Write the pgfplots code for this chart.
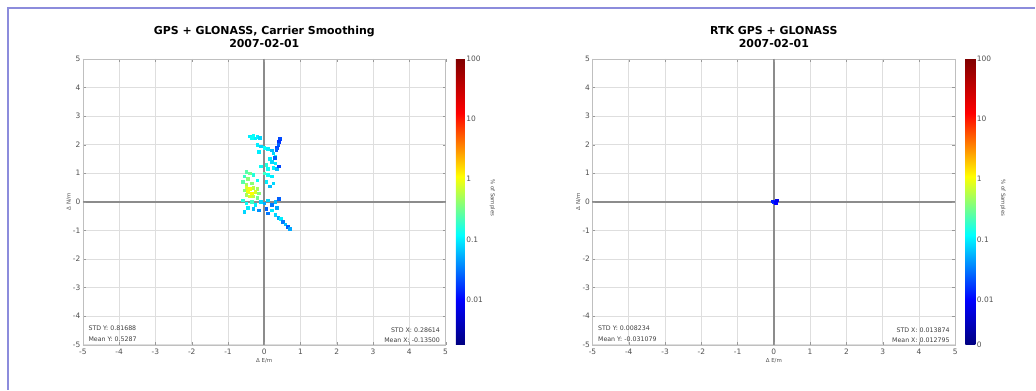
\documentclass[border=0pt]{standalone}
\usepackage{pgfplots}
\pgfplotsset{compat=1.18}
\usepackage{fontspec}
\setmainfont{DejaVu Sans}
\definecolor{framec}{RGB}{140,140,220}
\definecolor{tickc}{RGB}{80,80,80}

\pgfplotstableread{
x y c
-0.40 2.30 -1.0
-0.30 2.32 -0.9
-0.20 2.28 -1.0
-0.12 2.25 -1.1
-0.35 2.25 -0.9
-0.25 2.22 -1.0
0.42 2.20 -1.7
0.40 2.10 -1.8
0.38 2.00 -1.6
0.35 1.90 -1.7
0.33 1.82 -1.6
-0.20 2.00 -1.0
-0.10 1.95 -1.1
0.00 1.90 -0.9
0.10 1.85 -1.0
0.20 1.80 -1.2
-0.15 1.75 -1.0
0.25 1.70 -1.1
0.30 1.60 -0.9
0.15 1.50 -1.0
0.20 1.40 -1.1
0.30 1.35 -1.0
0.05 1.30 -0.8
-0.10 1.25 -0.9
0.25 1.20 -1.0
0.35 1.15 -1.2
0.10 1.15 -0.9
0.28 1.55 -1.6
0.40 1.25 -1.7
-0.50 1.05 -0.6
-0.40 1.00 -0.5
-0.55 0.90 -0.7
-0.30 0.95 -0.8
0.00 1.00 -0.7
0.10 0.95 -0.9
0.20 0.90 -1.0
-0.45 0.80 -0.4
-0.60 0.70 -0.6
-0.20 0.75 -0.9
0.05 0.70 -1.0
0.25 0.65 -1.1
-0.50 0.60 -0.3
-0.35 0.65 -0.4
0.15 0.55 -1.2
-0.50 0.50 -0.1
-0.40 0.45 0.0
-0.30 0.50 -0.2
-0.20 0.45 -0.3
-0.45 0.35 0.0
-0.35 0.30 0.05
-0.25 0.35 -0.1
-0.15 0.30 -0.4
-0.50 0.25 -0.3
-0.40 0.20 -0.1
-0.30 0.20 -0.2
-0.20 0.15 -0.5
-0.55 0.40 -0.4
-0.60 0.05 -0.8
-0.50 -0.05 -0.9
-0.35 0.00 -0.7
-0.25 -0.10 -1.0
-0.10 0.00 -1.1
0.00 -0.05 -1.3
0.10 0.05 -1.1
0.20 -0.10 -1.5
0.30 0.00 -1.2
0.40 0.10 -1.6
-0.45 -0.20 -1.0
-0.30 -0.25 -1.2
-0.15 -0.30 -1.4
0.05 -0.25 -1.6
0.20 -0.30 -1.0
0.35 -0.20 -1.3
-0.55 -0.35 -1.1
0.10 -0.40 -1.5
0.30 -0.45 -1.1
0.38 -0.55 -1.3
0.45 -0.60 -1.0
0.50 -0.70 -1.5
0.58 -0.78 -1.2
0.65 -0.88 -1.6
0.70 -0.95 -1.3
}\leftdata

\pgfplotstableread{
x y c
0.00 0.00 -1.8
0.05 -0.03 -2.0
-0.05 0.03 -1.9
0.08 0.05 -2.1
}\rightdata

\tikzset{stat/.style={font=\fontsize{6.3}{7}\selectfont, text=black!75, inner sep=0pt}}

\pgfplotsset{
  colormap={refjet}{rgb255(0pt)=(0,0,128); rgb255(157pt)=(0,0,255); rgb255(383pt)=(0,255,255); rgb255(589pt)=(255,255,0); rgb255(810pt)=(255,0,0); rgb255(1000pt)=(128,0,0)},
  panel/.style={
    scale only axis, width=363bp, height=286bp, anchor=south west,
    xmin=-5, xmax=5, ymin=-5, ymax=5,
    xtick={-5,...,5}, ytick={-5,...,5},
    /pgf/number format/assume math mode=true,
    grid=major, major grid style={draw=black!13, line width=0.8bp},
    axis line style={draw=black!25},
    tick style={draw=black!40}, major tick length=3bp,
    tick align=inside,
    ticklabel style={font=\fontsize{7.5}{8}\selectfont, text=tickc},
    xticklabel style={yshift=-1bp},
    yticklabel style={xshift=1bp},
    extra x ticks={0}, extra y ticks={0},
    extra x tick labels={}, extra y tick labels={},
    extra tick style={grid=major, major grid style={draw=black!45, line width=1.8bp}},
    xlabel={Δ E/m}, ylabel={Δ N/m},
    label style={font=\fontsize{5.5}{6}\selectfont, text=tickc},
    xlabel style={yshift=3bp},
    ylabel style={yshift=-5bp},
    title style={align=center, font=\bfseries\fontsize{11}{12.5}\selectfont, yshift=2bp},
    colormap name=refjet,
    point meta min=-2.75, point meta max=2,
    colorbar,
  },
}

\begin{document}
\begin{tikzpicture}
\path (0,0) rectangle (1036bp,390bp);
\fill[white] (0,0) rectangle (1036bp,390bp);
\draw[framec, line width=1.8bp] (8bp,0) -- (8bp,382bp) -- (1036bp,382bp);

\begin{axis}[panel, at={(83bp,45bp)},
  title={GPS + GLONASS, Carrier Smoothing\\2007-02-01},
  colorbar style={width=9bp, xshift=-4bp,
    ytick={-2,-1,0,1,2}, yticklabels={0.01,0.1,1,10,100},
    major tick length=0pt,
    yticklabel style={font=\fontsize{7.5}{8}\selectfont, text=tickc, xshift=-2bp},
    ylabel={\% of Samples}, ylabel style={font=\fontsize{5.5}{6}\selectfont, text=tickc, rotate=180, xshift=-4bp},
    axis line style={draw=none}}]
\addplot[scatter, only marks, mark=square*, mark size=1.3bp,
  scatter/use mapped color={draw=mapped color, fill=mapped color},
  point meta=explicit] table[x=x, y=y, meta=c] {\leftdata};
\node[stat, anchor=west] at (axis cs:-4.85,-4.42) {STD Y: 0.81688};
\node[stat, anchor=west] at (axis cs:-4.85,-4.82) {Mean Y: 0.5287};
\node[stat, anchor=east] at (axis cs:4.85,-4.48) {STD X: 0.28614};
\node[stat, anchor=east] at (axis cs:4.85,-4.85) {Mean X: -0.13500};
\end{axis}

\begin{axis}[panel, at={(593bp,45bp)},
  title={RTK GPS + GLONASS\\2007-02-01},
  colorbar style={width=10bp, xshift=-4bp,
    ytick={-2.75,-2,-1,0,1,2}, yticklabels={0,0.01,0.1,1,10,100},
    major tick length=0pt,
    yticklabel style={font=\fontsize{7.5}{8}\selectfont, text=tickc, xshift=-2bp},
    ylabel={\% of Samples}, ylabel style={font=\fontsize{5.5}{6}\selectfont, text=tickc, rotate=180, xshift=-4bp},
    axis line style={draw=none}}]
\addplot[scatter, only marks, mark=square*, mark size=1.2bp,
  scatter/use mapped color={draw=mapped color, fill=mapped color},
  point meta=explicit] table[x=x, y=y, meta=c] {\rightdata};
\node[stat, anchor=west] at (axis cs:-4.85,-4.42) {STD Y: 0.008234};
\node[stat, anchor=west] at (axis cs:-4.85,-4.82) {Mean Y: -0.031079};
\node[stat, anchor=east] at (axis cs:4.85,-4.48) {STD X: 0.013874};
\node[stat, anchor=east] at (axis cs:4.85,-4.85) {Mean X: 0.012795};
\end{axis}
\end{tikzpicture}
\end{document}
